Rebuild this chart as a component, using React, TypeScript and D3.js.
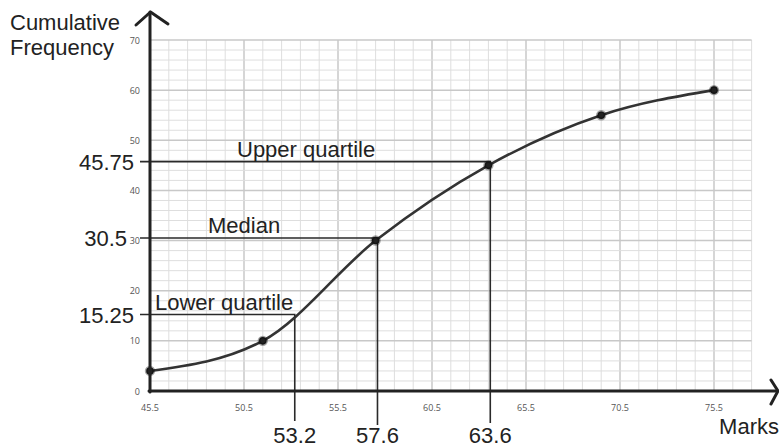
import * as d3 from 'd3';

// ogive data: upper class boundaries vs cumulative frequency
const marks = [45.5, 51.5, 57.5, 63.5, 69.5, 75.5];
const cumFreq = [4, 10, 30, 45, 55, 60];

const xTicks = [45.5, 50.5, 55.5, 60.5, 65.5, 70.5, 75.5];
const yTicks = [0, 10, 20, 30, 40, 50, 60, 70];

const quartileNames = ['Lower quartile', 'Median', 'Upper quartile'];
const quartileCF = [15.25, 30.5, 45.75];
const quartileCFText = ['15.25', '30.5', '45.75'];
const quartileMarks = [53.2, 57.6, 63.6];

const W = 779;
const H = 448;
const FONT = '"Liberation Sans", Arial, Helvetica, sans-serif';

export default function App() {
  const x = d3.scaleLinear().domain([45.5, 75.5]).range([150, 714]);
  const y = d3.scaleLinear().domain([0, 70]).range([391, 40]);

  const gridRight = x(77.5);
  const vLines = d3.range(45.5, 77.6, 1);
  const hLines = d3.range(0, 70.1, 2);

  const line = d3
    .line<number>()
    .x((_, i) => x(marks[i]))
    .y(d => y(d))
    .curve(d3.curveMonotoneX);

  // label placement (px offsets from the y axis)
  const nameOffset = [5, 58, 87];
  const bottomLen = [30, 34, 32];

  return (
    <svg
      width={W}
      height={H}
      style={{ position: 'absolute', left: 0, top: 0, background: '#fff' }}
    >
      {/* grid */}
      <g>
        {vLines.map((v, i) => {
          const major = Math.round(v - 45.5) % 5 === 0;
          return (
            <line
              key={'v' + i}
              x1={x(v)}
              x2={x(v)}
              y1={y(0)}
              y2={y(70)}
              stroke={major ? '#c8c8c8' : '#dedede'}
              strokeWidth={major ? 1.5 : 1}
            />
          );
        })}
        {hLines.map((v, i) => {
          const major = Math.round(v) % 10 === 0;
          return (
            <line
              key={'h' + i}
              x1={x(45.5)}
              x2={gridRight}
              y1={y(v)}
              y2={y(v)}
              stroke={major ? '#c8c8c8' : '#dedede'}
              strokeWidth={major ? 1.5 : 1}
            />
          );
        })}
      </g>

      {/* tick labels */}
      <g fontFamily={'"Open Sans", Arial, sans-serif'} fontSize={9} fill="#555">
        {xTicks.map(t => (
          <text key={'xt' + t} x={x(t)} y={411} textAnchor="middle">
            {t}
          </text>
        ))}
        {yTicks.map(t => (
          <text key={'yt' + t} x={140} y={y(t) + 3.5} textAnchor="end">
            {t}
          </text>
        ))}
      </g>

      {/* quartile guide lines */}
      <g stroke="#2a2a2a" strokeWidth={1.6} fill="none">
        {quartileCF.map((q, i) => (
          <path
            key={'q' + i}
            d={`M${x(45.5) - 10},${y(q)}H${x(quartileMarks[i])}V${y(0) + bottomLen[i]}`}
          />
        ))}
      </g>

      {/* curve */}
      <path d={line(cumFreq) || ''} fill="none" stroke="#333" strokeWidth={2.6} />
      {cumFreq.map((c, i) => (
        <circle
          key={'p' + i}
          cx={x(marks[i])}
          cy={y(c)}
          r={3.8}
          fill="#222"
          stroke="rgba(0,0,0,0.35)"
          strokeWidth={2.8}
        />
      ))}

      {/* axes */}
      <g stroke="#222" strokeWidth={3} fill="none" strokeLinecap="round">
        <line x1={x(45.5)} x2={x(45.5)} y1={y(0) + 1} y2={12} />
        <path d={`M136,25L150.5,12L168,24`} strokeLinejoin="round" />
        <line x1={x(45.5) - 1} x2={777} y1={y(0)} y2={y(0)} />
        <path d={`M771,380L778,391L771,404`} strokeLinejoin="round" />
      </g>

      {/* text */}
      <g fontFamily={FONT} fontSize={22} fill="#222">
        <text x={10} y={30}>Cumulative</text>
        <text x={10} y={55}>Frequency</text>
        <text x={779} y={434} textAnchor="end">Marks</text>
        {quartileNames.map((n, i) => (
          <text key={'n' + i} x={x(45.5) + nameOffset[i]} y={y(quartileCF[i]) - 5}>
            {n}
          </text>
        ))}
        {quartileCFText.map((t, i) => (
          <text
            key={'c' + i}
            x={i === 1 ? 127 : 134}
            y={y(quartileCF[i]) + 8}
            textAnchor="end"
          >
            {t}
          </text>
        ))}
        {quartileMarks.map((m, i) => (
          <text key={'m' + i} x={x(m)} y={443} textAnchor="middle">
            {m}
          </text>
        ))}
      </g>
    </svg>
  );
}
